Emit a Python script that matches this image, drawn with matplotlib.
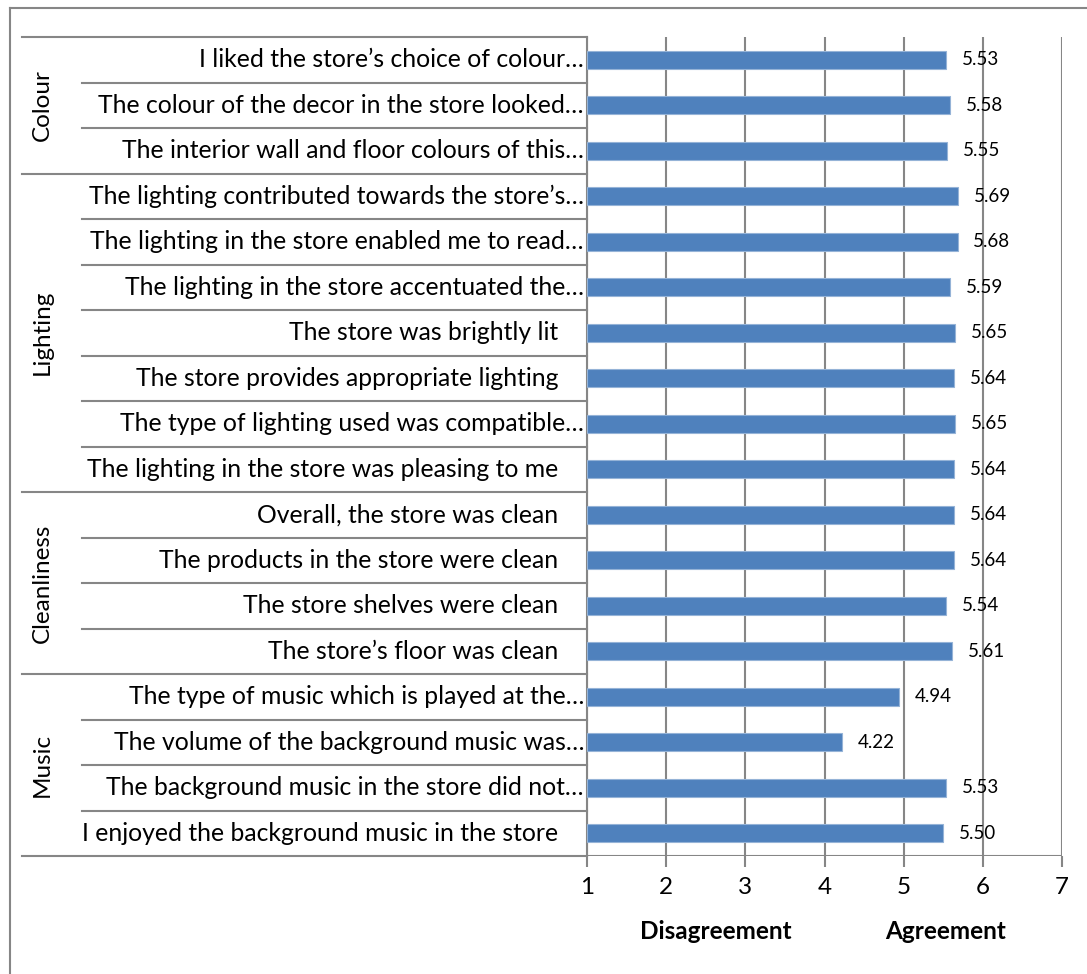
import matplotlib
matplotlib.use("Agg")
import matplotlib.pyplot as plt
from matplotlib.lines import Line2D
import matplotlib.transforms as mtransforms

plt.rcParams["font.family"] = ["Lato", "DejaVu Sans"]

# data, top to bottom
items = [
    "I liked the store\u2019s choice of colour\u2026",
    "The colour of the decor in the store looked\u2026",
    "The interior wall and floor colours of this\u2026",
    "The lighting contributed towards the store\u2019s\u2026",
    "The lighting in the store enabled me to read\u2026",
    "The lighting in the store accentuated the\u2026",
    "The store was brightly lit ",
    "The store provides appropriate lighting ",
    "The type of lighting used was compatible\u2026",
    "The lighting in the store was pleasing to me ",
    "Overall, the store was clean ",
    "The products in the store were clean ",
    "The store shelves were clean ",
    "The store\u2019s floor was clean ",
    "The type of music which is played at the\u2026",
    "The volume of the background music was\u2026",
    "The background music in the store did not\u2026",
    "I enjoyed the background music in the store ",
]
scores = [5.53, 5.58, 5.55, 5.69, 5.68, 5.59, 5.65, 5.64, 5.65, 5.64,
          5.64, 5.64, 5.54, 5.61, 4.94, 4.22, 5.53, 5.50]
groups = ["Colour", "Lighting", "Cleanliness", "Music"]
group_sizes = [3, 7, 4, 4]
xticks = [1, 2, 3, 4, 5, 6, 7]

W, H = 1087, 974
fig = plt.figure(figsize=(W / 100, H / 100), dpi=100)
ax = fig.add_axes([587 / W, 1 - 856 / H, 475 / W, (856 - 37) / H])

grid_c = "#868686"
bar_c = "#4F81BD"
n = len(items)
ypos = list(range(n))

ax.barh(ypos, [s - 1 for s in scores], left=1, height=0.39,
        color=bar_c, edgecolor="#95B3D7", linewidth=0.8, zorder=3)
for y, s in zip(ypos, scores):
    ax.text(s + 0.2, y, f"{s:.2f}", va="center", ha="left", fontsize=13.5, zorder=4)

ax.set_xlim(1, 7)
ax.set_ylim(n - 0.5, -0.5)
ax.set_xticks(xticks)
ax.set_xticklabels([str(t) for t in xticks], fontsize=17.5)
ax.set_yticks([])
ax.tick_params(axis="x", length=8, width=1.5, color=grid_c, pad=7)
ax.grid(axis="x", color=grid_c, linewidth=1.5, zorder=0)
for sp in ["top", "right", "bottom"]:
    ax.spines[sp].set_visible(False)
ax.spines["left"].set_color(grid_c)
ax.spines["left"].set_linewidth(1.5)
ax.axhline(n - 0.5, color=grid_c, linewidth=1.5, zorder=2)

# category labels; a trailing space in the label pads it away from the axis
trans = mtransforms.blended_transform_factory(ax.transAxes, ax.transData)
lab_x = (584 - 587) / 475
inner_x = (82 - 587) / 475
outer_x = (22 - 587) / 475
for y, lab in zip(ypos, items):
    txt = lab.rstrip() + ("    " if lab.endswith(" ") else "")
    ax.text(lab_x, y, txt, transform=trans, ha="right", va="center", fontsize=17.8)

# separators and group labels
start = 0
ax.plot([outer_x, 0], [-0.5, -0.5], transform=trans, color=grid_c, lw=1.5, clip_on=False)
for g, size in zip(groups, group_sizes):
    end = start + size
    for b in range(start + 1, end):
        ax.plot([inner_x, 0], [b - 0.5, b - 0.5], transform=trans,
                color=grid_c, lw=1.5, clip_on=False)
    ax.plot([outer_x, 0], [end - 0.5, end - 0.5], transform=trans,
            color=grid_c, lw=1.5, clip_on=False)
    ax.text((42 - 587) / 475, (start + end - 1) / 2, g, transform=trans,
            rotation=90, ha="center", va="center", fontsize=17.5)
    start = end

# bottom axis captions
cap_t = mtransforms.blended_transform_factory(ax.transData, ax.transAxes)
ax.text(2.63, -0.092, "Disagreement", transform=cap_t,
        ha="center", va="center", fontsize=17.5, fontweight="bold")
ax.text(5.53, -0.092, "Agreement", transform=cap_t,
        ha="center", va="center", fontsize=17.5, fontweight="bold")

# outer chart border (top and left visible)
fig.add_artist(Line2D([10 / W, 10 / W], [0, 1 - 8 / H], color=grid_c, lw=1.5))
fig.add_artist(Line2D([10 / W, 1], [1 - 8 / H, 1 - 8 / H], color=grid_c, lw=1.5))

fig.savefig("out.png", dpi=100)
